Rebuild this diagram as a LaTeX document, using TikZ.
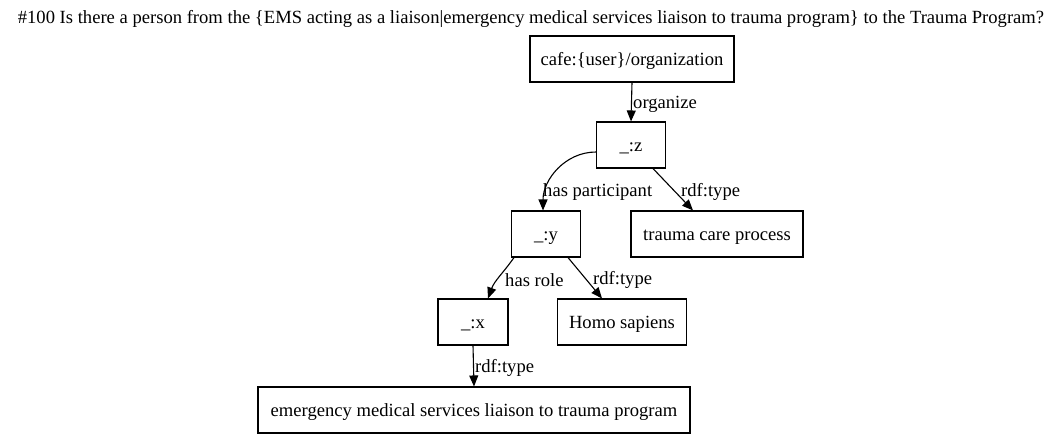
\documentclass[tikz,border=0pt]{standalone}
\usepackage{fontspec}
\setmainfont{Liberation Serif}
\usetikzlibrary{arrows.meta}
\tikzset{
  gbox/.style={rectangle, draw=black, line width=1.1pt, inner sep=0pt,
               minimum height=46pt, text height=14pt, text depth=2pt,
               font=\fontsize{18.6}{21}\selectfont},
  glink/.style={-{Triangle[length=11pt, width=9pt]}, line width=1.1pt, black},
  glabel/.style={anchor=west, inner sep=0pt, font=\fontsize{18.6}{21}\selectfont},
}
\begin{document}
\begin{tikzpicture}[x=1pt, y=-1pt]
  \useasboundingbox (0,0) rectangle (1062,440);
  % --- the question ---------------------------------------------------------
  \node[font=\fontsize{18.6}{21}\selectfont, inner sep=0pt] (question) at (531,19)
    {\#100 Is there a person from the \{EMS acting as a liaison|emergency medical services liaison to trauma program\} to the Trauma Program?};

  % --- the nodes --------------------------------------------------------------
  \node[gbox, minimum width=204pt] (org)    at (632,59)  {cafe:\{user\}/organization};
  \node[gbox, minimum width=69pt]  (z)      at (631,145) {\_:z};
  \node[gbox, minimum width=69pt]  (y)      at (546,234) {\_:y};
  \node[gbox, minimum width=172pt] (trauma) at (717,234) {trauma care process};
  \node[gbox, minimum width=70pt]  (x)      at (473,322) {\_:x};
  \node[gbox, minimum width=129pt] (homo)   at (622,322) {Homo sapiens};
  \node[gbox, minimum width=432pt] (emsl)   at (474,410) {emergency medical services liaison to trauma program};

  % --- the links ----------------------------------------------------------------
  \draw[glink] (org.south) -- (z.north);
  \draw[glink] ([yshift=-7pt]z.west) to[out=180, in=90] ([xshift=-3pt]y.north);
  \draw[glink] ([xshift=22pt]z.south) -- ([xshift=-24pt]trauma.north);
  \draw[glink] ([xshift=-32pt]y.south) to[out=-125, in=70] ([xshift=15pt]x.north);
  \draw[glink] ([xshift=22pt]y.south) -- ([xshift=-20pt]homo.north);
  \draw[glink] (x.south) -- (emsl.north);

  % --- link labels ----------------------------------------------------------------
  \node[glabel] (lorg)   at (633,104) {organize};
  \node[glabel] (lpart)  at (543,192) {has participant};
  \node[glabel] (ltype1) at (681,192) {rdf:type};
  \node[glabel] (lrole)  at (505,280) {has role};
  \node[glabel] (ltype2) at (593,280) {rdf:type};
  \node[glabel] (ltype3) at (475,368) {rdf:type};
\end{tikzpicture}
\end{document}
